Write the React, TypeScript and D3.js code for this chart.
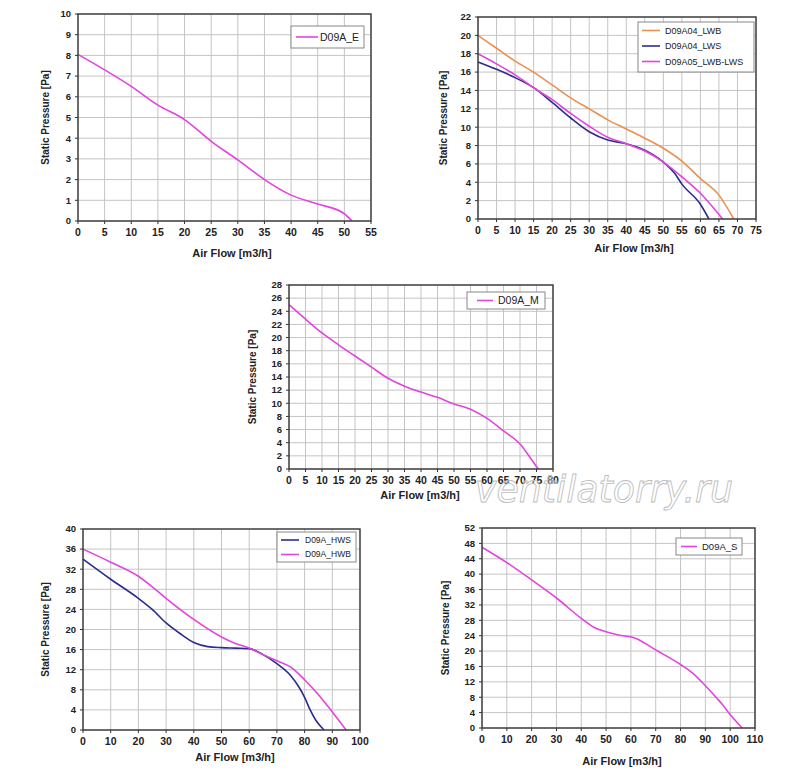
import React from "react";
import * as d3 from "d3";

const PINK = "#e244de";
const NAVY = "#2c2c8e";
const ORANGE = "#ea9050";

// D09A_E
const flowE = [0, 5, 10, 15, 20, 25, 30, 35, 40, 45, 50, 51.4];
const pressE = [8.05, 7.3, 6.5, 5.6, 4.9, 3.85, 2.95, 2.0, 1.25, 0.82, 0.35, 0];

// D09A04_LWB / D09A04_LWS / D09A05_LWB-LWS
const flowLWB = [0, 5, 10, 15, 20, 25, 30, 35, 40, 45, 50, 55, 60, 65, 69];
const pressLWB = [20, 18.6, 17.2, 16.0, 14.6, 13.2, 12.0, 10.8, 9.8, 8.8, 7.7, 6.3, 4.4, 2.6, 0];
const flowLWS = [0, 5, 10, 15, 20, 25, 30, 35, 40, 45, 50, 53, 55, 60, 62.3];
const pressLWS = [17.1, 16.3, 15.4, 14.3, 12.7, 11.0, 9.5, 8.6, 8.2, 7.5, 6.2, 5.0, 3.8, 1.6, 0];
const flowLWBLWS = [0, 5, 10, 15, 20, 25, 30, 35, 40, 45, 50, 55, 60, 66];
const pressLWBLWS = [18, 16.9, 15.7, 14.3, 13.0, 11.5, 10.1, 8.9, 8.2, 7.4, 6.2, 4.6, 2.8, 0];

// D09A_M
const flowM = [0, 5, 10, 15, 20, 25, 30, 35, 40, 45, 50, 55, 60, 65, 70, 73, 75.5];
const pressM = [25.0, 22.8, 20.7, 18.9, 17.2, 15.5, 13.8, 12.6, 11.7, 10.9, 9.9, 9.1, 7.7, 5.8, 3.8, 1.8, 0];

// D09A_HWS / D09A_HWB
const flowHWS = [0, 10, 20, 25, 30, 35, 40, 45, 50, 55, 60, 65, 70, 75, 78, 80, 82, 84, 87];
const pressHWS = [34, 30, 26.2, 24, 21.3, 19.2, 17.4, 16.6, 16.4, 16.3, 16.2, 15.0, 13.2, 10.8, 8.5, 6.5, 4.0, 2.0, 0];
const flowHWB = [0, 10, 20, 25, 30, 40, 50, 55, 60, 65, 70, 75, 80, 85, 90, 95];
const pressHWB = [36, 33.4, 30.6, 28.5, 26.2, 22.0, 18.5, 17.2, 16.3, 15.0, 13.8, 12.5, 10.0, 7.0, 3.6, 0];

// D09A_S
const flowS = [0, 10, 20, 30, 40, 45, 50, 55, 62, 70, 80, 85, 90, 95, 97, 100, 104.8];
const pressS = [47, 43, 38.5, 33.8, 28.5, 26.2, 25, 24.2, 23.3, 20.3, 16.5, 14.2, 11.0, 7.5, 6.0, 3.5, 0];

type Series = { name: string; x: number[]; y: number[]; color: string };

type PanelProps = {
  l: number;
  r: number;
  t: number;
  b: number;
  xMax: number;
  xStep: number;
  yMax: number;
  yStep: number;
  series: Series[];
  leg: { x: number; y: number; w: number; h: number; ls: number; ll: number; tx: number; r0: number; rs: number; fs: number };
  yTitleX: number;
  xTitleX: number;
  xTitleY: number;
};

const Panel = (p: PanelProps) => {
  const x = d3.scaleLinear().domain([0, p.xMax]).range([p.l, p.r]);
  const y = d3.scaleLinear().domain([0, p.yMax]).range([p.b, p.t]);
  const xTicks = d3.range(0, p.xMax + p.xStep / 2, p.xStep);
  const yTicks = d3.range(0, p.yMax + p.yStep / 2, p.yStep);

  return (
    <g>
      {xTicks.map((v) => (
        <line key={"gx" + v} x1={x(v)} x2={x(v)} y1={p.t} y2={p.b} stroke="#c4c4c4" strokeWidth={1} />
      ))}
      {yTicks.map((v) => (
        <line key={"gy" + v} x1={p.l} x2={p.r} y1={y(v)} y2={y(v)} stroke="#c4c4c4" strokeWidth={1} />
      ))}
      {p.series.map((s) => {
        const pts = s.x.map((v, i) => [v, s.y[i]] as [number, number]);
        const path = d3
          .line<[number, number]>()
          .x((d) => x(d[0]))
          .y((d) => y(d[1]))
          .curve(d3.curveMonotoneX)(pts);
        return <path key={s.name} d={path || ""} fill="none" stroke={s.color} strokeWidth={1.6} />;
      })}
      <rect x={p.l} y={p.t} width={p.r - p.l} height={p.b - p.t} fill="none" stroke="#3a3a3a" strokeWidth={1.4} />
      {xTicks.map((v) => (
        <g key={"tx" + v}>
          <line x1={x(v)} x2={x(v)} y1={p.b} y2={p.b + 3} stroke="#333" strokeWidth={1} />
          <text x={x(v)} y={p.b + 15} textAnchor="middle" fontSize={10.5} fontWeight="bold" fill="#222">
            {v}
          </text>
        </g>
      ))}
      {yTicks.map((v) => (
        <g key={"ty" + v}>
          <line x1={p.l - 3} x2={p.l} y1={y(v)} y2={y(v)} stroke="#333" strokeWidth={1} />
          <text x={p.l - 7} y={y(v)} dy="0.35em" textAnchor="end" fontSize={9.5} fontWeight="bold" fill="#222">
            {v}
          </text>
        </g>
      ))}
      <text x={p.xTitleX} y={p.xTitleY} textAnchor="middle" fontSize={11} fontWeight="bold" fill="#222">
        Air Flow [m3/h]
      </text>
      <text
        transform={`translate(${p.yTitleX},${(p.t + p.b) / 2}) rotate(-90)`}
        textAnchor="middle"
        dy="0.35em"
        fontSize={10}
        fontWeight="bold"
        fill="#222"
      >
        Static Pressure [Pa]
      </text>
      <rect x={p.leg.x} y={p.leg.y} width={p.leg.w} height={p.leg.h} fill="#fff" stroke="#888" strokeWidth={1} />
      {p.series.map((s, i) => {
        const ry = p.leg.y + p.leg.r0 + i * p.leg.rs;
        return (
          <g key={"lg" + s.name}>
            <line x1={p.leg.x + p.leg.ls} x2={p.leg.x + p.leg.ls + p.leg.ll} y1={ry} y2={ry} stroke={s.color} strokeWidth={1.6} />
            <text x={p.leg.x + p.leg.tx} y={ry} dy="0.35em" fontSize={p.leg.fs} fill="#222">
              {s.name}
            </text>
          </g>
        );
      })}
    </g>
  );
};

export default function App() {
  return (
    <svg
      width={800}
      height={777}
      style={{ position: "absolute", left: 0, top: 0, background: "#fff" }}
      fontFamily="'Liberation Sans', Arial, sans-serif"
    >
      <rect width={800} height={777} fill="#fff" />
      <Panel
        l={78} r={371} t={14} b={221}
        xMax={55} xStep={5} yMax={10} yStep={1}
        series={[{ name: "D09A_E", x: flowE, y: pressE, color: PINK }]}
        leg={{ x: 291, y: 26, w: 73, h: 22, ls: 5, ll: 22, tx: 29, r0: 11, rs: 0, fs: 10.5 }}
        yTitleX={45} xTitleX={232} xTitleY={257}
      />
      <Panel
        l={478} r={756} t={17} b={219}
        xMax={75} xStep={5} yMax={22} yStep={2}
        series={[
          { name: "D09A04_LWB", x: flowLWB, y: pressLWB, color: ORANGE },
          { name: "D09A04_LWS", x: flowLWS, y: pressLWS, color: NAVY },
          { name: "D09A05_LWB-LWS", x: flowLWBLWS, y: pressLWBLWS, color: PINK },
        ]}
        leg={{ x: 638, y: 22, w: 116, h: 50, ls: 4, ll: 18, tx: 27, r0: 8.5, rs: 15.5, fs: 9 }}
        yTitleX={443} xTitleX={634} xTitleY={252}
      />
      <Panel
        l={289} r={553} t={285} b={469}
        xMax={80} xStep={5} yMax={28} yStep={2}
        series={[{ name: "D09A_M", x: flowM, y: pressM, color: PINK }]}
        leg={{ x: 467, y: 292, w: 78, h: 17, ls: 10, ll: 16, tx: 31, r0: 8.5, rs: 0, fs: 10.5 }}
        yTitleX={252} xTitleX={420} xTitleY={499}
      />
      <Panel
        l={83} r={360} t={529} b={730}
        xMax={100} xStep={10} yMax={40} yStep={4}
        series={[
          { name: "D09A_HWS", x: flowHWS, y: pressHWS, color: NAVY },
          { name: "D09A_HWB", x: flowHWB, y: pressHWB, color: PINK },
        ]}
        leg={{ x: 277, y: 532, w: 79, h: 30, ls: 4, ll: 18, tx: 28, r0: 8, rs: 14.5, fs: 8.5 }}
        yTitleX={45} xTitleX={235} xTitleY={761}
      />
      <Panel
        l={482} r={755} t={528} b={728}
        xMax={110} xStep={10} yMax={52} yStep={4}
        series={[{ name: "D09A_S", x: flowS, y: pressS, color: PINK }]}
        leg={{ x: 676, y: 538, w: 66, h: 17, ls: 5, ll: 16, tx: 26, r0: 8.5, rs: 0, fs: 9.5 }}
        yTitleX={445} xTitleX={622} xTitleY={765}
      />
      <text
        x={475}
        y={502}
        fontSize={38}
        fontStyle="italic"
        fill="#ffffff"
        fillOpacity={0.35}
        stroke="#bdbdbd"
        strokeWidth={0.9}
        textLength={258}
        lengthAdjust="spacingAndGlyphs"
        fontFamily="'DejaVu Sans', sans-serif"
        fontWeight={300}
      >
        ventilatorry.ru
      </text>
    </svg>
  );
}
